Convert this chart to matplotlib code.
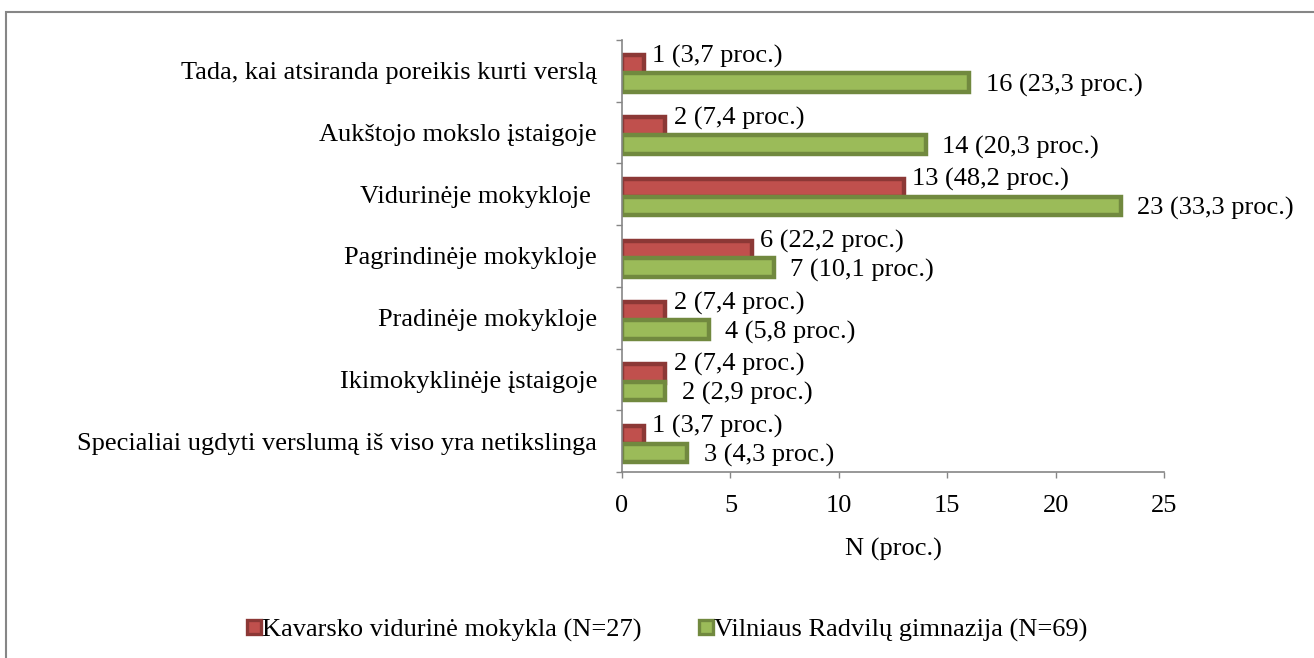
import matplotlib.pyplot as plt
from matplotlib.patches import Rectangle
from matplotlib.lines import Line2D
import numpy as np

plt.rcParams['font.family'] = ['Liberation Serif', 'DejaVu Serif']

# categories listed bottom -> top
categories = [
    'Specialiai ugdyti verslumą iš viso yra netikslinga',
    'Ikimokyklinėje įstaigoje',
    'Pradinėje mokykloje',
    'Pagrindinėje mokykloje',
    'Vidurinėje mokykloje ',
    'Aukštojo mokslo įstaigoje',
    'Tada, kai atsiranda poreikis kurti verslą',
]
kavarsko_n = [1, 2, 2, 6, 13, 2, 1]
kavarsko_pct = ['3,7', '7,4', '7,4', '22,2', '48,2', '7,4', '3,7']
vilnius_n = [3, 2, 4, 7, 23, 14, 16]
vilnius_pct = ['4,3', '2,9', '5,8', '10,1', '33,3', '20,3', '23,3']
series_names = ['Kavarsko vidurinė mokykla (N=27)', 'Vilniaus Radvilų gimnazija (N=69)']

red_fill, red_edge = '#C0504D', '#8C3836'
green_fill, green_edge = '#9BBB59', '#71893F'

fig = plt.figure(figsize=(13.14, 6.58), dpi=100)
ax = fig.add_axes([0.4734, 0.2827, 0.4125, 0.6565])

# outer frame (chart area border, right/bottom run off the picture)
fig.patches.append(Rectangle((6 / 1314, -0.1), 1.2, 1 - 12 / 658 + 0.1,
                             transform=fig.transFigure, fill=False,
                             edgecolor='#868686', linewidth=1.5))

y = np.arange(len(categories))
h = 0.30
off_r, off_g = 0.10, -0.19
ax.barh(y + off_r, kavarsko_n, height=h, color=red_fill, edgecolor=red_edge, linewidth=3.2)
ax.barh(y + off_g, vilnius_n, height=h, color=green_fill, edgecolor=green_edge, linewidth=3.2)

fs = 19
for i in range(len(categories)):
    ax.annotate(f'{kavarsko_n[i]} ({kavarsko_pct[i]} proc.)', (kavarsko_n[i], y[i] + off_r),
                xytext=(6, 6), textcoords='offset points', ha='left', va='center', fontsize=fs)
    ax.annotate(f'{vilnius_n[i]} ({vilnius_pct[i]} proc.)', (vilnius_n[i], y[i] + off_g),
                xytext=(12, -2), textcoords='offset points', ha='left', va='center', fontsize=fs)

ax.set_xlim(0, 25)
ax.set_ylim(-0.5, len(categories) - 0.5)
ax.set_xticks(np.arange(0, 26, 5))
ax.set_yticks(y)
ax.set_yticklabels(categories, fontsize=fs)
ax.set_yticks(np.arange(-0.5, len(categories)), minor=True)
ax.tick_params(axis='y', which='major', length=0, pad=18)
ax.tick_params(axis='y', which='minor', length=4.5, color='#868686', width=1)
ax.tick_params(axis='x', length=4.5, color='#868686', width=1, labelsize=fs, pad=12)
ax.set_xlabel('N (proc.)', fontsize=fs, labelpad=15)

for s in ['top', 'right']:
    ax.spines[s].set_visible(False)
for s in ['left', 'bottom']:
    ax.spines[s].set_color('#868686')
    ax.spines[s].set_linewidth(1.2)

handles = [
    Line2D([], [], marker='s', linestyle='', markersize=10.5, markerfacecolor=red_fill,
           markeredgecolor=red_edge, markeredgewidth=2.4),
    Line2D([], [], marker='s', linestyle='', markersize=10.5, markerfacecolor=green_fill,
           markeredgecolor=green_edge, markeredgewidth=2.4),
]
fig.legend(handles, series_names, loc='center', bbox_to_anchor=(0.508, 1 - 630 / 658),
           ncol=2, frameon=False, fontsize=fs, handlelength=0.5, handletextpad=0.05,
           columnspacing=2.2)

fig.savefig('out.png', dpi=100)
